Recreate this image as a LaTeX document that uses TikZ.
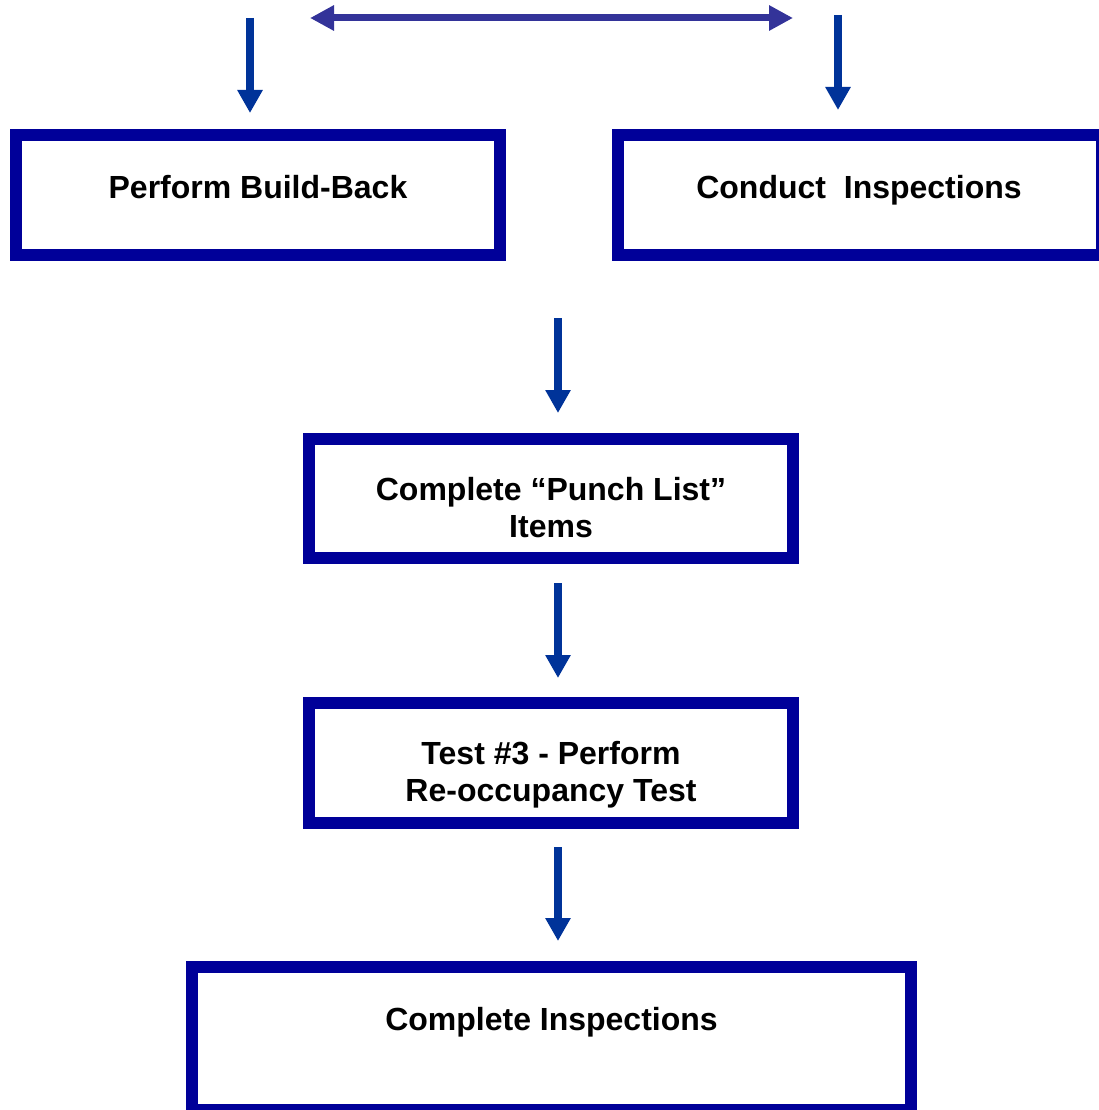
\documentclass[tikz,border=0pt]{standalone}
\usepackage{fontspec}
\setmainfont{Liberation Sans}
\usetikzlibrary{arrows.meta}
\definecolor{boxblue}{HTML}{000099}
\definecolor{arrblue}{HTML}{003399}
\definecolor{dblblue}{HTML}{333399}
\begin{document}
\begin{tikzpicture}[x=1pt,y=-1pt,
  stepbox/.style={draw=boxblue, line width=12pt, rectangle, inner sep=0pt,
    minimum width=484pt, minimum height=120pt, fill=white},
  lbl/.style={anchor=base, inner sep=0pt, font=\fontsize{32}{37}\selectfont\bfseries},
  flow/.style={draw=arrblue, line width=8pt, -{Triangle[length=23pt,width=24pt]}},
  twoway/.style={draw=dblblue, line width=7pt,
    {Triangle[length=24pt,width=24pt]}-{Triangle[length=24pt,width=24pt]}}]
\useasboundingbox (0,0) rectangle (1099,1110);
\clip (0,0) rectangle (1099,1110);
% boxes
\node[stepbox] (b1) at (258,195) {};
\node[stepbox] (b2) at (860,195) {};
\node[stepbox, minimum height=119.5pt] (b3) at (551,498.25) {};
\node[stepbox] (b4) at (551,762.5) {};
\node[stepbox, minimum width=719pt, minimum height=143pt] (b5) at (551.5,1038.5) {};
% texts
\node[lbl] (t1) at (258,198) {Perform Build-Back};
\node[lbl] (t2) at (859,198) {Conduct\ \ Inspections};
\node[lbl] (t3a) at (551,500) {Complete “Punch List”};
\node[lbl] (t3b) at (551,537) {Items};
\node[lbl] (t4a) at (551,764) {Test \#3 - Perform};
\node[lbl] (t4b) at (551,801) {Re-occupancy Test};
\node[lbl] (t5) at (551.5,1030) {Complete Inspections};
% free ends of connectors
\coordinate (s1) at (250,18);
\coordinate (s2) at (838,15);
\coordinate (s3) at (558,318);
\coordinate (dl) at (310,18);
\coordinate (dr) at (793,18);
% connectors
\draw[twoway] (dl) -- (dr);
\draw[flow] (s1) -- ([yshift=16pt]s1 |- b1.north);
\draw[flow] (s2) -- ([yshift=19pt]s2 |- b2.north);
\draw[flow] (s3) -- ([yshift=19.5pt]s3 |- b3.north);
\draw[flow] ([xshift=7pt,yshift=-19pt]b3.south) -- ([xshift=7pt,yshift=18.5pt]b4.north);
\draw[flow] ([xshift=7pt,yshift=-18.5pt]b4.south) -- ([xshift=6.5pt,yshift=20pt]b5.north);
\end{tikzpicture}
\end{document}
